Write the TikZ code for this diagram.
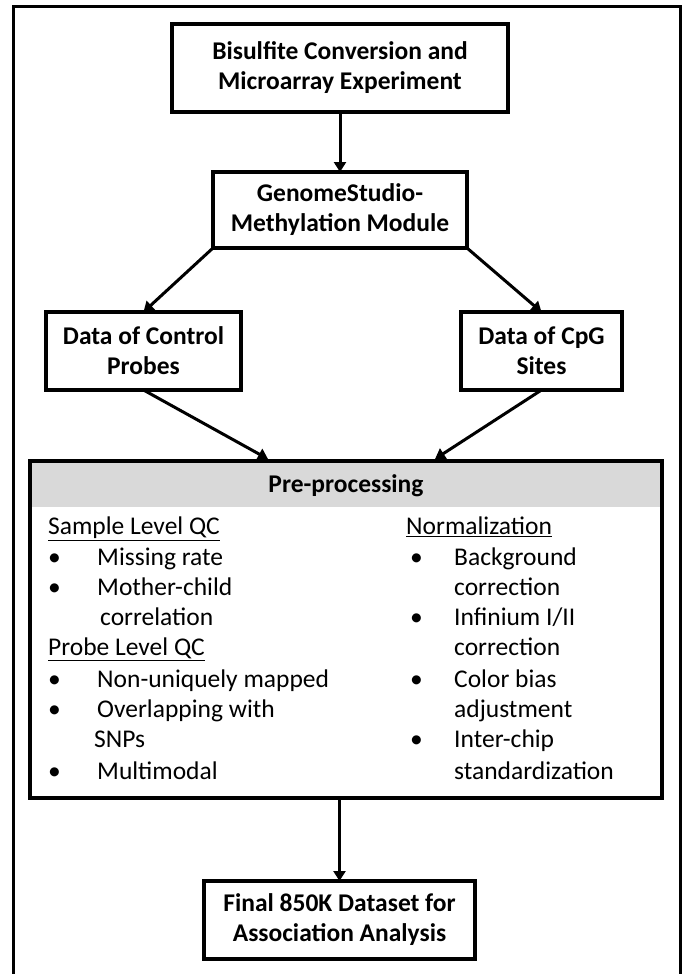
\documentclass[tikz,border=0pt]{standalone}
\usepackage{fontspec}
\setmainfont{Carlito}
\usetikzlibrary{arrows.meta}
\definecolor{hdrgray}{HTML}{D9D9D9}
\begin{document}
\begin{tikzpicture}[x=1pt,y=-1pt,
  boxnode/.style={draw,line width=3.2pt,inner sep=0pt,outer sep=0pt,align=center,
    font=\bfseries\fontsize{25.5}{30}\selectfont},
  arr/.style={line width=3pt,-{Triangle[length=10pt,width=12pt]}},
  lst/.style={anchor=mid west,inner sep=0pt,font=\fontsize{25.5}{30}\selectfont}]
\useasboundingbox (0,0) rectangle (682,974);
\clip (0,0) rectangle (682,974);
% outer frame (bottom edge cut off)
\draw[line width=3pt] (13,990) -- (13,7) -- (680,7) -- (680,990);
% boxes
\node[boxnode,minimum width=336pt,minimum height=88pt] (b1) at (340,68)
  {Bisulfite Conversion and\\Microarray Experiment};
\node[boxnode,minimum width=254pt,minimum height=76pt] (b2) at (340,210)
  {GenomeStudio-\\Methylation Module};
\node[boxnode,minimum width=195pt,minimum height=78pt] (b3) at (143.5,351)
  {Data of Control\\Probes};
\node[boxnode,minimum width=161pt,minimum height=78pt] (b4) at (541.5,351)
  {Data of CpG\\Sites};
\node[boxnode,minimum width=271pt,minimum height=78pt] (fin) at (339.5,920)
  {Final 850K Dataset for\\Association Analysis};
% pre-processing box
\path node[inner sep=0pt,outer sep=0pt,minimum width=632pt,minimum height=337pt] (pre) at (346,629.5) {};
\fill[hdrgray] (pre.north west) rectangle ([yshift=-46pt]pre.north east);
\draw[line width=4.5pt] (pre.north west) rectangle (pre.south east);
\node[font=\bfseries\fontsize{25.5}{30}\selectfont,inner sep=0pt] (hdr) at (346,486) {Pre-processing};
% left column
\node[lst] (l1) at (48,532) {\underline{Sample Level QC}};
\node[lst] (l2b) at (48,563) {•};
\node[lst] (l2) at (97,563) {Missing rate};
\node[lst] (l3b) at (48,593) {•};
\node[lst] (l3) at (97,593) {Mother-child};
\node[lst] (l4) at (100,623) {correlation};
\node[lst] (l5) at (48,653) {\underline{Probe Level QC}};
\node[lst] (l6b) at (48,685) {•};
\node[lst] (l6) at (97,685) {Non-uniquely mapped};
\node[lst] (l7b) at (48,715) {•};
\node[lst] (l7) at (97,715) {Overlapping with};
\node[lst] (l8) at (94,745) {SNPs};
\node[lst] (l9b) at (48,777) {•};
\node[lst] (l9) at (97,777) {Multimodal};
% right column
\node[lst] (r1) at (406,532) {\underline{Normalization}};
\node[lst] (r2b) at (410,563) {•};
\node[lst] (r2) at (454,563) {Background};
\node[lst] (r3) at (454,593) {correction};
\node[lst] (r4b) at (410,623) {•};
\node[lst] (r4) at (454,623) {Infinium I/II};
\node[lst] (r5) at (454,653) {correction};
\node[lst] (r6b) at (410,685) {•};
\node[lst] (r6) at (454,685) {Color bias};
\node[lst] (r7) at (454,715) {adjustment};
\node[lst] (r8b) at (410,745) {•};
\node[lst] (r8) at (454,745) {Inter-chip};
\node[lst] (r9) at (454,777) {standardization};
% connectors
\coordinate (p1) at (268,459);
\coordinate (p2) at (435,459);
\draw[arr] (b1.south) -- (b2.north);
\draw[arr] (b2.south west) -- (b3.north);
\draw[arr] (b2.south east) -- (b4.north);
\draw[arr] (b3.south) -- (p1);
\draw[arr] (b4.south) -- (p2);
\draw[arr] (pre.south -| fin.north) -- (fin.north);
\end{tikzpicture}
\end{document}
